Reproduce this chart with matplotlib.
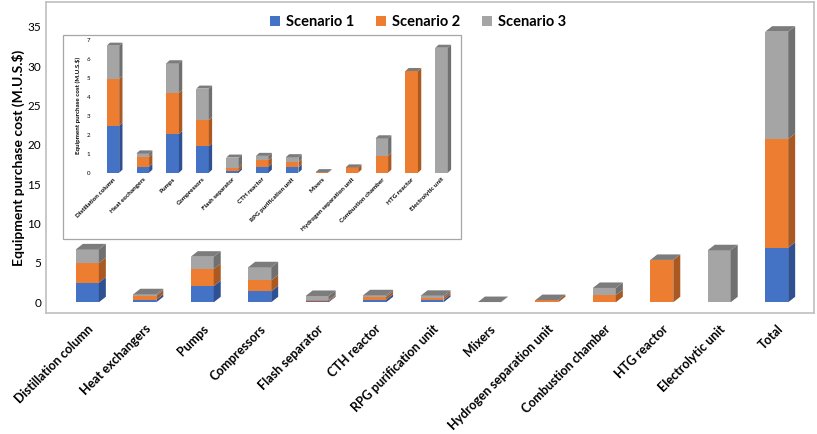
import matplotlib
matplotlib.use("Agg")
import matplotlib.pyplot as plt
from matplotlib.patches import Polygon, Rectangle

plt.rcParams["font.family"] = ["Lato", "DejaVu Sans"]

categories = [
    "Distillation column", "Heat exchangers", "Pumps", "Compressors",
    "Flash separator", "CTH reactor", "RPG purification unit", "Mixers",
    "Hydrogen separation unit", "Combustion chamber", "HTG reactor",
    "Electrolytic unit", "Total",
]
scenario1 = [2.49, 0.32, 2.05, 1.39, 0.11, 0.32, 0.28, 0.01, 0.0, 0.0, 0.0, 0.0, 6.93]
scenario2 = [2.47, 0.51, 2.17, 1.39, 0.16, 0.34, 0.28, 0.01, 0.28, 0.90, 5.38, 0.0, 13.81]
scenario3 = [1.76, 0.19, 1.57, 1.67, 0.53, 0.23, 0.26, 0.01, 0.0, 0.92, 0.0, 6.61, 13.63]
series_names = ["Scenario 1", "Scenario 2", "Scenario 3"]

front_colors = ["#4472C4", "#ED7D31", "#A5A5A5"]
side_colors = ["#2F5192", "#AA5922", "#707070"]
top_color = "#7C7C7C"


def draw_3d_stack(ax, series, width, ddx, ddy):
    n = len(series[0])
    bottoms = [0.0] * n
    for vals, fc, sc, name in zip(series, front_colors, side_colors, series_names):
        ax.bar(range(n), vals, width, bottom=bottoms, color=fc, label=name,
               linewidth=0, zorder=2)
        for i, v in enumerate(vals):
            if v <= 0:
                continue
            xr = i + width / 2
            y0, y1 = bottoms[i], bottoms[i] + v
            side = Polygon([(xr, y0), (xr + ddx, y0 + ddy), (xr + ddx, y1 + ddy), (xr, y1)],
                           closed=True, facecolor=sc, edgecolor="none", zorder=2)
            ax.add_patch(side)
        bottoms = [b + v for b, v in zip(bottoms, vals)]
    # the top lid is always drawn in the grey of the last series
    for i, top in enumerate(bottoms):
        xl, xr = i - width / 2, i + width / 2
        lid = Polygon([(xl, top), (xr, top), (xr + ddx, top + ddy), (xl + ddx, top + ddy)],
                      closed=True, facecolor=top_color, edgecolor="none", zorder=3)
        ax.add_patch(lid)


W, H = 817, 434
fig = plt.figure(figsize=(W / 100, H / 100), dpi=100)

# main chart
ax = fig.add_axes([46 / W, 1 - 313 / H, (814 - 46) / W, (313 - 2) / H])
draw_3d_stack(ax, [scenario1, scenario2, scenario3], 0.40, 0.122, 0.70)
ax.set_xlim(-0.72, 12.65)
ax.set_ylim(-1.36, 38.14)
ax.set_yticks(range(0, 36, 5))
ax.set_xticks(range(len(categories)))
ax.set_xticklabels(categories, rotation=45, ha="right", va="top",
                   rotation_mode="anchor", fontsize=9, fontweight="bold")
ax.tick_params(axis="both", length=0, labelsize=8.5)
ax.tick_params(axis="x", pad=7, labelsize=9)
for s in ax.spines.values():
    s.set_color("#BFBFBF")
    s.set_linewidth(1.2)
ax.set_ylabel("Equipment purchase cost (M.U.S.$)", fontsize=10, fontweight="bold", labelpad=2)

handles, labels = ax.get_legend_handles_labels()
fig.legend(handles, labels, loc="center", bbox_to_anchor=(418 / W, 1 - 22 / H), ncol=3,
           frameon=False, prop={"weight": "bold", "size": 10.5}, handlelength=0.7,
           handleheight=0.7, columnspacing=1.5, handletextpad=0.4)

# inset box
fig.patches.append(Rectangle((63 / W, 1 - 239 / H), (461 - 63) / W, (239 - 35) / H,
                             transform=fig.transFigure, facecolor="white",
                             edgecolor="#A6A6A6", linewidth=0.9, zorder=1))

ins = fig.add_axes([95 / W, 1 - 172.7 / H, (455 - 95) / W, (172.7 - 38.5) / H])
ins.set_zorder(5)
draw_3d_stack(ins, [scenario1[:-1], scenario2[:-1], scenario3[:-1]], 0.42, 0.11, 0.16)
ins.set_xlim(-0.60, 11.45)
ins.set_ylim(0, 7.1)
ins.set_yticks(range(0, 8))
ins.set_xticks(range(len(categories) - 1))
ins.set_xticklabels(categories[:-1], rotation=45, ha="right", va="top",
                    rotation_mode="anchor", fontsize=4.6, fontweight="bold")
ins.tick_params(axis="both", length=0, labelsize=4.4)
ins.tick_params(axis="x", pad=3, labelsize=4.6)
for s in ins.spines.values():
    s.set_visible(False)
ins.patch.set_alpha(0)
ins.set_ylabel("Equipment purchase cost (M.U.S.$)", fontsize=4.5, fontweight="bold", labelpad=4)

fig.savefig("out.png", dpi=100)
